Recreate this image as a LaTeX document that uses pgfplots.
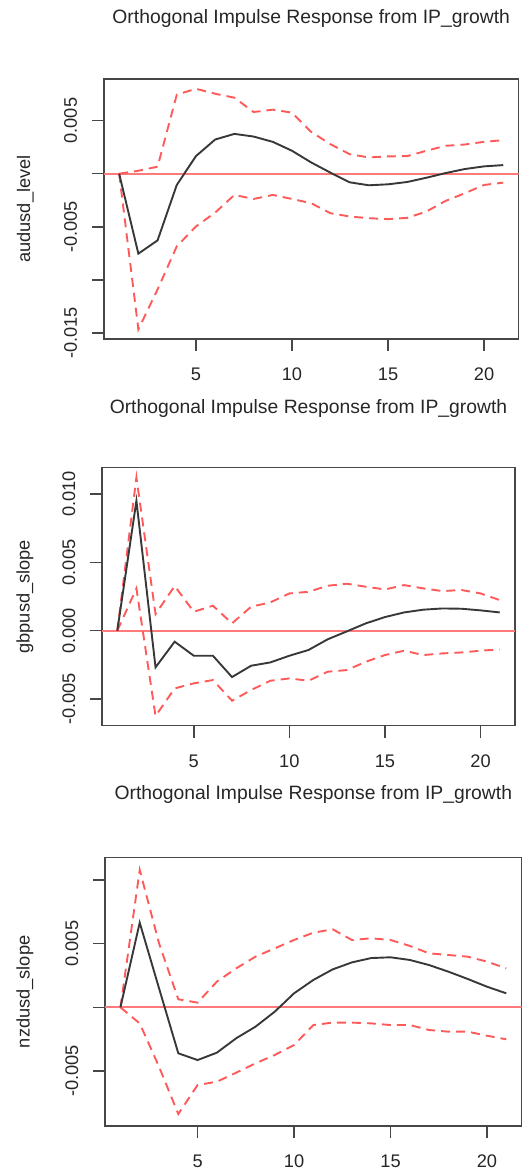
\documentclass[border=0pt]{standalone}
\usepackage{pgfplots}
\pgfplotsset{compat=1.18}
\usepackage{pgfplotstable}
\usepackage{fontspec}
\setmainfont{Liberation Sans}
\definecolor{irfblack}{HTML}{383838}
\definecolor{cired}{HTML}{FF5A5A}
\definecolor{zerored}{HTML}{FF7A7A}
\definecolor{boxgray}{HTML}{474747}

\pgfplotstableread{
x mid up lo
1 0 0 0
2 -0.00753 0.00028 -0.01466
3 -0.00628 0.00066 -0.0109
4 -0.00106 0.00744 -0.00684
5 0.00166 0.0080 -0.00497
6 0.00322 0.00753 -0.00366
7 0.00375 0.00716 -0.0020
8 0.0035 0.00581 -0.00238
9 0.0030 0.00603 -0.0020
10 0.00216 0.00575 -0.00238
11 0.00106 0.00394 -0.00278
12 0.0001 0.00278 -0.00372
13 -0.00081 0.00184 -0.00403
14 -0.00109 0.00153 -0.00419
15 -0.0010 0.00163 -0.00428
16 -0.00078 0.00166 -0.00416
17 -0.00038 0.00216 -0.00356
18 0.00006 0.00263 -0.00256
19 0.00044 0.00275 -0.00184
20 0.00069 0.0030 -0.00106
21 0.00081 0.00316 -0.00084
}\audusd

\pgfplotstableread{
x mid up lo
1 0 0 0
2 0.00951 0.01122 0.0031
3 -0.00268 0.00122 -0.00624
4 -0.0008 0.00327 -0.00422
5 -0.00183 0.00139 -0.00385
6 -0.00183 0.00183 -0.00361
7 -0.00339 0.00054 -0.00512
8 -0.00256 0.00176 -0.00434
9 -0.00232 0.00207 -0.00366
10 -0.00183 0.00273 -0.00349
11 -0.00141 0.00285 -0.00366
12 -0.00063 0.00329 -0.0030
13 -0.00005 0.00344 -0.00288
14 0.00054 0.00322 -0.00227
15 0.0010 0.00302 -0.00178
16 0.00134 0.00334 -0.00146
17 0.00154 0.0031 -0.00178
18 0.00163 0.0029 -0.00166
19 0.00161 0.00298 -0.00159
20 0.00149 0.00273 -0.00146
21 0.00134 0.00224 -0.00137
}\gbpusd

\pgfplotstableread{
x mid up lo
1 0 0 0
2 0.00665 0.01079 -0.00126
3 0.0015 0.00503 -0.00466
4 -0.00361 0.00063 -0.00838
5 -0.00414 0.00037 -0.0061
6 -0.00356 0.00202 -0.00584
7 -0.00243 0.00306 -0.00513
8 -0.00152 0.00398 -0.0044
9 -0.00034 0.00463 -0.00374
10 0.0011 0.00529 -0.00296
11 0.00215 0.00586 -0.00139
12 0.00298 0.00613 -0.0012
13 0.00353 0.00529 -0.0012
14 0.00387 0.00542 -0.00126
15 0.00393 0.00529 -0.00139
16 0.00372 0.00482 -0.00139
17 0.00332 0.00424 -0.00178
18 0.0028 0.00411 -0.00191
19 0.00223 0.00398 -0.00191
20 0.00162 0.00359 -0.00223
21 0.0011 0.00306 -0.00251
}\nzdusd

\pgfplotsset{
  irf/.style={
    scale only axis,
    anchor=south west,
    xmin=0.2, xmax=21.8,
    scaled y ticks=false,
    scaled x ticks=false,
    axis line style={boxgray, line width=1.5bp},
    tick style={boxgray, line width=1.5bp},
    tick align=outside,
    tick pos=left,
    major tick length=12bp,
    xtick={5,10,15,20},
    xticklabels={5,10,15,20},
    xticklabel style={anchor=north, inner sep=0pt, yshift=-17bp, text=black!85},
    yticklabel style={xshift=-14.5bp, rotate=90, anchor=south, inner sep=0pt, text=black!85},
    tick label style={font=\fontsize{18.3}{20}\selectfont},
    label style={font=\fontsize{18.3}{20}\selectfont, text=black!85},
    title style={font=\fontsize{19.4}{22}\selectfont, text=black!85, at={(axis description cs:0.5,1)}, anchor=base},
    clip=true,
  },
  mid/.style={irfblack, line width=1.9bp, no marks},
  ci/.style={cired, line width=1.9bp, dash pattern=on 9bp off 6bp, no marks},
  zero/.style={zerored, line width=2.3bp, no marks},
}

\begin{document}
\begin{tikzpicture}
\path[use as bounding box] (0,0) rectangle (529bp,-1173bp);

% Panel 1
\begin{axis}[irf,
  at={(103.8bp,-339bp)}, width=414.8bp, height=260bp,
  ymin=-0.01557, ymax=0.00892,
  ytick={-0.015,-0.01,-0.005,0,0.005},
  yticklabels={-0.015,,-0.005,,0.005},
  title={Orthogonal Impulse Response from IP\_growth},
  title style={yshift=49.7bp},
  ylabel={audusd\_level},
  ylabel style={at={(axis description cs:-0.1779,0.5)}, anchor=base, rotate=0},
]
\addplot[zero] coordinates {(0.2,0) (21.8,0)};
\addplot[ci] table[x=x,y=up] {\audusd};
\addplot[ci] table[x=x,y=lo] {\audusd};
\addplot[mid] table[x=x,y=mid] {\audusd};
\end{axis}

% Panel 2
\begin{axis}[irf,
  at={(102bp,-725.7bp)}, width=413bp, height=258bp,
  ymin=-0.00695, ymax=0.01193,
  ytick={-0.005,0,0.005,0.01},
  yticklabels={-0.005,0.000,0.005,0.010},
  title={Orthogonal Impulse Response from IP\_growth},
  title style={yshift=48.7bp},
  ylabel={gbpusd\_slope},
  ylabel style={at={(axis description cs:-0.1755,0.5)}, anchor=base, rotate=0},
]
\addplot[zero] coordinates {(0.2,0) (21.8,0)};
\addplot[ci] table[x=x,y=up] {\gbpusd};
\addplot[ci] table[x=x,y=lo] {\gbpusd};
\addplot[mid] table[x=x,y=mid] {\gbpusd};
\end{axis}

% Panel 3
\begin{axis}[irf,
  at={(105bp,-1126bp)}, width=416.7bp, height=268.3bp,
  ymin=-0.00932, ymax=0.01175,
  ytick={-0.005,0,0.005,0.01},
  yticklabels={-0.005,,0.005,},
  title={Orthogonal Impulse Response from IP\_growth},
  title style={yshift=52bp},
  ylabel={nzdusd\_slope},
  ylabel style={at={(axis description cs:-0.181,0.5)}, anchor=base, rotate=0},
]
\addplot[zero] coordinates {(0.2,0) (21.8,0)};
\addplot[ci] table[x=x,y=up] {\nzdusd};
\addplot[ci] table[x=x,y=lo] {\nzdusd};
\addplot[mid] table[x=x,y=mid] {\nzdusd};
\end{axis}
\end{tikzpicture}
\end{document}
